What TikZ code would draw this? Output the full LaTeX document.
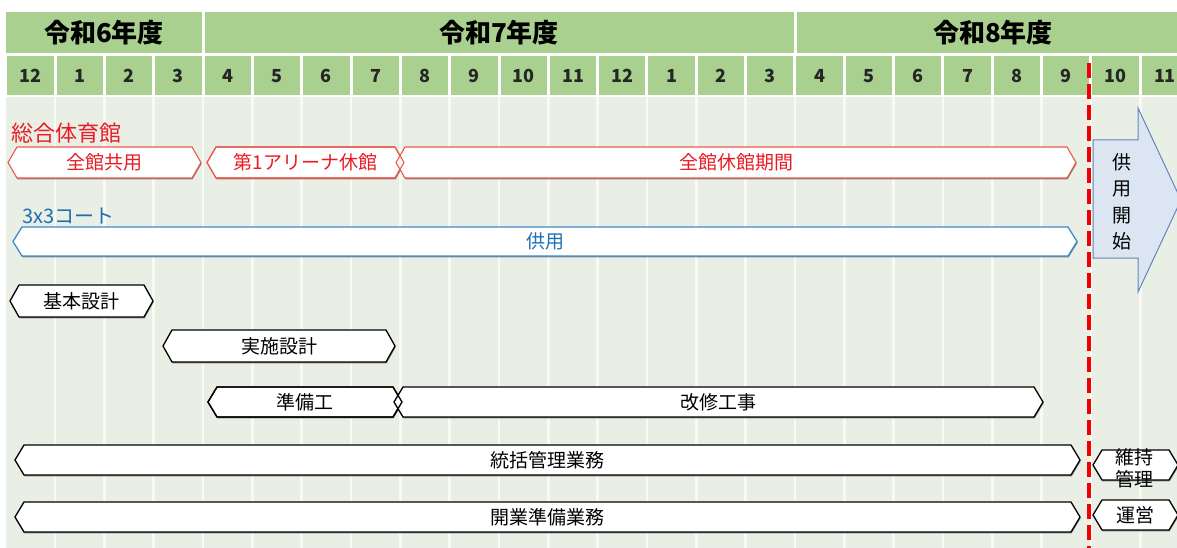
\documentclass[tikz,border=0pt]{standalone}
\usepackage{fontspec}
\setmainfont{Noto Sans CJK JP}
\usetikzlibrary{shadows}
\definecolor{hdrgreen}{RGB}{169,208,142}
\definecolor{bodybg}{RGB}{234,239,229}
\definecolor{gridline}{RGB}{248,250,246}
\definecolor{redtxt}{RGB}{232,28,36}
\definecolor{redline}{RGB}{232,90,80}
\definecolor{bluetxt}{RGB}{30,110,180}
\definecolor{blueline}{RGB}{60,140,200}
\definecolor{arrowfill}{RGB}{220,230,242}
\definecolor{arrowline}{RGB}{95,135,185}
\definecolor{dashred}{RGB}{240,0,0}
\tikzset{
  yearlbl/.style={font=\fontsize{26}{28}\selectfont\bfseries, text=black, inner sep=0pt},
  monlbl/.style={font=\fontsize{18}{20}\selectfont\bfseries, text=black!85, inner sep=0pt},
  myshadow/.style={drop shadow={shadow xshift=0.6pt, shadow yshift=-1.4pt, opacity=0.45, fill=black}},
  redbar/.style={draw=redline, fill=white, line width=1.1pt, myshadow},
  redbar txt/.style={font=\fontsize{19}{21}\selectfont, text=redtxt, inner sep=0pt},
  redout/.style={draw=redline, line width=1.1pt},
  bluebar/.style={draw=blueline, fill=white, line width=1.3pt, myshadow},
  bluebar txt/.style={font=\fontsize{19}{21}\selectfont, text=bluetxt, inner sep=0pt},
  blkbar/.style={draw=black, fill=white, line width=1.3pt, myshadow},
  blkbar txt/.style={font=\fontsize{19}{21}\selectfont, text=black, inner sep=0pt},
  blkout/.style={draw=black, line width=1.3pt},
  grplbl/.style={font=\fontsize{22}{24}\selectfont, inner sep=0pt, anchor=west},
  startarrow/.style={draw=arrowline, fill=arrowfill, line width=1pt},
  reddash/.style={draw=dashred, line width=3.5pt, dash pattern=on 15pt off 6pt},
}
\newcommand\hexshape[5]{\path[#1] (#2,{(#4+#5)/2}) -- ({#2+9},#4) -- ({#3-9},#4) -- (#3,{(#4+#5)/2}) -- ({#3-9},#5) -- ({#2+9},#5) -- cycle;}
\newcommand\hexbar[7]{\hexshape{#1}{#2}{#3}{#4}{#5}\node[#1 txt] (#6) at ({(#2+#3)/2},{(#4+#5)/2}) {#7};}
\begin{document}
\begin{tikzpicture}[x=1pt,y=-1pt]
\useasboundingbox (0,0) rectangle (1177,548);
\clip (0,0) rectangle (1177,548);
\fill[white] (0,0) rectangle (1177,548);
% body background and grid
\fill[bodybg] (6,97) rectangle (1195,548);
\foreach \i in {1,...,23} \draw[gridline, line width=2.5pt] ({5.7+49.33*\i},97) -- ({5.7+49.33*\i},548);
% header row 1
\fill[hdrgreen] (6,12) rectangle (201.5,53);
\fill[hdrgreen] (204.5,12) rectangle (793.5,53);
\fill[hdrgreen] (796.5,12) rectangle (1195,53);
\node[yearlbl] (y6) at (104,33) {令和6年度};
\node[yearlbl] (y7) at (499,33) {令和7年度};
\node[yearlbl] (y8) at (993,33) {令和8年度};
% header row 2
\foreach \m [count=\k from 0] in {12,1,2,3,4,5,6,7,8,9,10,11,12,1,2,3,4,5,6,7,8,9,10,11} {
  \fill[hdrgreen] ({5.7+49.33*\k+1.5},56) rectangle ({5.7+49.33*(\k+1)-1.5},95);
  \node[monlbl] (m\k) at ({5.7+49.33*(\k+0.5)},76) {\m};
}
% group labels
\node[grplbl, text=redtxt] (sogo) at (11,133) {総合体育館};
\node[grplbl, text=bluetxt, font=\fontsize{20}{22}\selectfont] (court) at (22,216) {3x3コート};
% red bars
\hexbar{redbar}{8}{201}{147}{178}{kanyo}{全館共用}
\hexbar{redbar}{207}{404}{147}{178}{arena}{第1アリーナ休館}
\hexbar{redbar}{396}{1076}{147}{178}{kyukan}{全館休館期間}
\hexshape{redout}{207}{404}{147}{178}
% blue bar
\hexbar{bluebar}{13}{1077}{227}{256}{kyoyo}{供用}
% black bars
\hexbar{blkbar}{10}{153}{285}{317}{kihon}{基本設計}
\hexbar{blkbar}{163}{395}{330}{362}{jisshi}{実施設計}
\hexbar{blkbar}{208}{402}{387}{417}{junbi}{準備工}
\hexbar{blkbar}{394}{1043}{387}{417}{kaishu}{改修工事}
\hexshape{blkout}{208}{402}{387}{417}
\hexbar{blkbar}{15}{1080}{445}{475}{tokatsu}{統括管理業務}
\hexbar{blkbar}{15}{1080}{502}{532}{kaigyo}{開業準備業務}
\hexshape{blkbar}{1093}{1178}{450}{480}
\node[blkbar txt, align=center, font=\fontsize{19}{22}\selectfont] (iji) at (1134,468) {維持\\管理};
\hexbar{blkbar}{1093}{1178}{500}{530}{unei}{運営}
% red dashed line
\coordinate (dtop) at (1089,63);
\coordinate (dbot) at (1089,548);
\draw[reddash] (dtop) -- (dbot);
% start arrow
\path[startarrow] (1093,140) -- (1138,140) -- (1138,108) -- (1181,200) -- (1138,292) -- (1138,258) -- (1093,258) -- cycle;
\node[align=center, inner sep=0pt, font=\fontsize{19}{26.5}\selectfont] (kaishi) at (1122,202) {供\\用\\開\\始};
\end{tikzpicture}
\end{document}
